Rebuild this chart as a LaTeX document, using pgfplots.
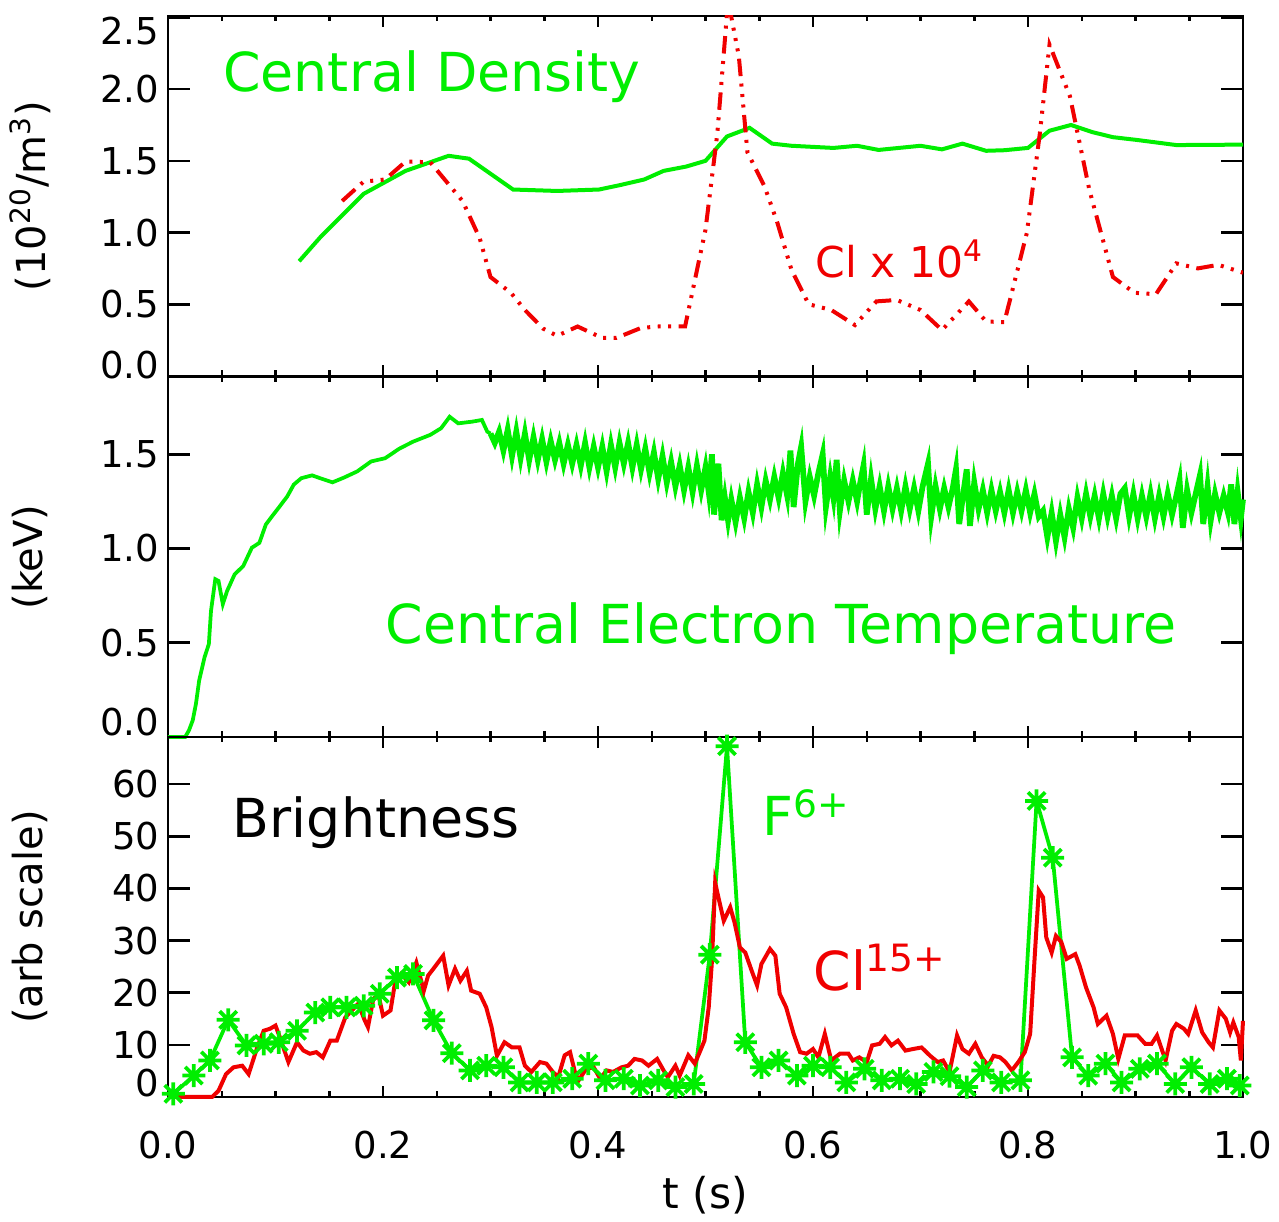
\documentclass[border=0pt]{standalone}
\usepackage{fontspec}
\setmainfont{DejaVu Sans}
\usepackage{pgfplots}
\pgfplotsset{compat=1.18}
\definecolor{idlgreen}{RGB}{0,238,0}
\definecolor{idlred}{RGB}{240,0,0}
\pgfdeclareplotmark{idlstar}{%
 \pgfpathmoveto{\pgfqpoint{-\pgfplotmarksize}{0pt}}\pgfpathlineto{\pgfqpoint{\pgfplotmarksize}{0pt}}%
 \pgfpathmoveto{\pgfqpoint{0pt}{-\pgfplotmarksize}}\pgfpathlineto{\pgfqpoint{0pt}{\pgfplotmarksize}}%
 \pgfpathmoveto{\pgfqpoint{-0.75\pgfplotmarksize}{-0.75\pgfplotmarksize}}\pgfpathlineto{\pgfqpoint{0.75\pgfplotmarksize}{0.75\pgfplotmarksize}}%
 \pgfpathmoveto{\pgfqpoint{-0.75\pgfplotmarksize}{0.75\pgfplotmarksize}}\pgfpathlineto{\pgfqpoint{0.75\pgfplotmarksize}{-0.75\pgfplotmarksize}}%
 \pgfusepathqstroke}
% labels at the ends of an axis are moved inside it, as in the reference
\newcommand{\edgelabel}[2]{\raisebox{#1}[0pt][0pt]{\pgfmathprintnumber{#2}}}
\pgfplotsset{panel/.style={
 scale only axis, width=430pt, height=144pt, anchor=south west,
 xmin=0, xmax=1, xtick={0,0.2,0.4,0.6,0.8,1}, minor x tick num=3,
 axis line style={line width=1pt, black},
 every tick/.style={black, line width=1pt},
 major tick length=8.8pt,
 xtick style={/pgfplots/major tick length=4.4pt, /pgfplots/minor tick length=2.2pt},
 tick label style={font=\fontsize{14.8}{17}\selectfont},
 label style={font=\fontsize{16}{19}\selectfont},
 /pgf/number format/assume math mode=true,
 ylabel style={at={(axis description cs:-0.128,0.5)}, anchor=center},
}}
\begin{document}
\begin{tikzpicture}
\path[use as bounding box] (0,0) rectangle (511.6pt,488.8pt);
% ---------------- top panel
\begin{axis}[panel, at={(67.2pt,338.4pt)}, ymin=0, ymax=2.51, ytick={0,0.5,1,1.5,2,2.5},
 xticklabels={}, yticklabel style={/pgf/number format/.cd,fixed,fixed zerofill,precision=1},
 yticklabel={\ifcase\ticknum \edgelabel{-1pt}{\tick}\or\pgfmathprintnumber{\tick}\or\pgfmathprintnumber{\tick}\or\pgfmathprintnumber{\tick}\or\pgfmathprintnumber{\tick}\else\edgelabel{-11pt}{\tick}\fi},
 ylabel={(10\textsuperscript{20}/m\textsuperscript{3})}]
\addplot[idlgreen, line width=1.6pt] coordinates {
(0.122,0.80)(0.142,0.97)(0.182,1.27)(0.221,1.43)(0.261,1.535)(0.280,1.515)(0.321,1.30)(0.362,1.29)(0.401,1.30)(0.420,1.33)(0.443,1.37)(0.461,1.43)(0.482,1.46)(0.500,1.50)(0.520,1.67)(0.541,1.73)(0.562,1.62)(0.580,1.605)(0.619,1.59)(0.641,1.605)(0.661,1.576)(0.700,1.605)(0.720,1.58)(0.739,1.62)(0.761,1.57)(0.778,1.574)(0.800,1.59)(0.820,1.71)(0.840,1.75)(0.860,1.70)(0.879,1.665)(0.902,1.645)(0.938,1.61)(1.000,1.613)};
\addplot[idlred, line width=1.6pt, line cap=butt, dash pattern=on 7pt off 3pt on 1.2pt off 3pt on 1.2pt off 3pt on 1.2pt off 3pt] coordinates {
(0.162,1.22)(0.182,1.355)(0.202,1.37)(0.221,1.495)(0.244,1.49)(0.274,1.22)(0.290,0.96)(0.300,0.69)(0.319,0.58)(0.332,0.46)(0.349,0.33)(0.362,0.28)(0.381,0.345)(0.404,0.265)(0.417,0.265)(0.440,0.335)(0.456,0.345)(0.481,0.345)(0.500,1.02)(0.511,1.69)(0.521,2.62)(0.531,2.23)(0.539,1.56)(0.555,1.32)(0.567,1.065)(0.580,0.74)(0.596,0.50)(0.617,0.46)(0.639,0.355)(0.659,0.52)(0.678,0.53)(0.700,0.46)(0.720,0.32)(0.745,0.52)(0.761,0.38)(0.778,0.375)(0.799,1.0)(0.811,1.69)(0.820,2.31)(0.839,1.95)(0.857,1.30)(0.879,0.69)(0.899,0.58)(0.919,0.57)(0.938,0.785)(0.958,0.75)(0.977,0.775)(1.000,0.72)};
\node[anchor=base west, inner sep=0pt, text=idlgreen, font=\fontsize{21.5}{24}\selectfont] at (axis cs:0.051,1.98) {Central Density};
\node[anchor=base west, inner sep=0pt, text=idlred, font=\fontsize{17}{20}\selectfont] at (axis cs:0.602,0.69) {Cl x 10\textsuperscript{4}};
\end{axis}
% ---------------- middle panel
\begin{axis}[panel, at={(67.2pt,194pt)}, ymin=0, ymax=1.91, ytick={0,0.5,1,1.5}, clip=false,
 xticklabels={}, yticklabel style={/pgf/number format/.cd,fixed,fixed zerofill,precision=1},
 yticklabel={\ifnum\ticknum=0 \edgelabel{0.6pt}{\tick}\else\pgfmathprintnumber{\tick}\fi},
 ylabel={(keV)}]
\addplot[idlgreen, line width=1.5pt] coordinates {
(0,0.0)(0.016,0.0)(0.0195,0.035)(0.023,0.088)(0.026,0.176)(0.029,0.30)(0.034,0.423)(0.038,0.493)(0.040,0.669)(0.044,0.837)(0.047,0.828)(0.051,0.705)(0.055,0.775)(0.062,0.863)(0.070,0.907)(0.078,1.004)(0.085,1.03)(0.091,1.127)(0.098,1.18)(0.104,1.224)(0.111,1.277)(0.117,1.339)(0.124,1.373)(0.134,1.388)(0.143,1.370)(0.153,1.351)(0.164,1.377)(0.176,1.409)(0.189,1.462)(0.202,1.479)(0.215,1.529)(0.228,1.567)(0.244,1.603)(0.254,1.638)(0.262,1.699)(0.270,1.664)(0.283,1.673)(0.292,1.682)(0.297,1.62)(0.300,1.61)};
\addplot[idlgreen, line width=2.3pt] coordinates {
(0.300,1.61)(0.304,1.56)(0.308,1.62)(0.312,1.52)(0.316,1.63)(0.320,1.49)(0.324,1.62)(0.328,1.48)(0.332,1.61)(0.336,1.47)(0.340,1.59)(0.344,1.47)(0.348,1.58)(0.352,1.46)(0.356,1.57)(0.360,1.47)(0.364,1.56)(0.368,1.45)(0.372,1.55)(0.376,1.45)(0.380,1.55)(0.384,1.44)(0.388,1.56)(0.392,1.43)(0.396,1.54)(0.400,1.43)(0.404,1.54)(0.408,1.41)(0.412,1.55)(0.416,1.43)(0.420,1.56)(0.424,1.45)(0.428,1.56)(0.432,1.43)(0.436,1.55)(0.440,1.42)(0.444,1.53)(0.448,1.40)(0.452,1.51)(0.456,1.37)(0.460,1.49)(0.464,1.35)(0.468,1.46)(0.472,1.33)(0.476,1.44)(0.480,1.31)(0.484,1.43)(0.488,1.30)(0.492,1.44)(0.496,1.31)(0.500,1.43)(0.503,1.30)(0.506,1.50)(0.508,1.18)(0.512,1.45)(0.515,1.15)(0.518,1.27)(0.521,1.15)(0.524,1.26)(0.528,1.14)(0.532,1.27)(0.536,1.16)(0.540,1.30)(0.544,1.19)(0.548,1.34)(0.552,1.22)(0.556,1.36)(0.560,1.26)(0.564,1.38)(0.568,1.27)(0.572,1.40)(0.576,1.28)(0.579,1.52)(0.582,1.22)(0.586,1.45)(0.589,1.54)(0.593,1.25)(0.597,1.38)(0.601,1.28)(0.605,1.40)(0.609,1.50)(0.612,1.22)(0.616,1.38)(0.619,1.27)(0.622,1.47)(0.625,1.20)(0.629,1.36)(0.633,1.25)(0.637,1.36)(0.641,1.25)(0.644,1.35)(0.647,1.44)(0.650,1.18)(0.654,1.37)(0.658,1.21)(0.662,1.33)(0.666,1.20)(0.670,1.33)(0.674,1.21)(0.678,1.32)(0.682,1.20)(0.686,1.33)(0.690,1.21)(0.694,1.32)(0.698,1.20)(0.702,1.33)(0.707,1.45)(0.710,1.17)(0.714,1.33)(0.718,1.21)(0.722,1.32)(0.726,1.22)(0.730,1.32)(0.733,1.42)(0.736,1.13)(0.740,1.30)(0.743,1.42)(0.746,1.12)(0.750,1.35)(0.754,1.21)(0.758,1.31)(0.762,1.19)(0.766,1.31)(0.770,1.20)(0.774,1.30)(0.778,1.19)(0.782,1.31)(0.786,1.19)(0.790,1.30)(0.794,1.20)(0.798,1.31)(0.802,1.19)(0.806,1.29)(0.810,1.17)(0.814,1.20)(0.818,1.06)(0.822,1.19)(0.826,1.04)(0.830,1.18)(0.834,1.06)(0.838,1.21)(0.842,1.11)(0.846,1.27)(0.850,1.16)(0.854,1.29)(0.858,1.17)(0.862,1.28)(0.866,1.16)(0.870,1.29)(0.874,1.17)(0.878,1.28)(0.882,1.16)(0.886,1.29)(0.890,1.32)(0.894,1.17)(0.898,1.29)(0.902,1.16)(0.906,1.28)(0.910,1.17)(0.914,1.29)(0.918,1.16)(0.922,1.28)(0.926,1.17)(0.930,1.29)(0.934,1.18)(0.938,1.28)(0.941,1.36)(0.944,1.11)(0.948,1.31)(0.952,1.19)(0.956,1.29)(0.960,1.39)(0.963,1.13)(0.967,1.33)(0.970,1.15)(0.974,1.29)(0.978,1.19)(0.982,1.28)(0.986,1.19)(0.989,1.34)(0.992,1.13)(0.995,1.30)(0.998,1.16)(1.000,1.26)};
\node[anchor=base west, inner sep=0pt, text=idlgreen, font=\fontsize{21.5}{24}\selectfont] at (axis cs:0.202,0.495) {Central Electron Temperature};
\end{axis}
% ---------------- bottom panel
\begin{axis}[panel, at={(67.2pt,50pt)}, ymin=0, ymax=69.06, ytick={0,10,20,30,40,50,60}, clip=false,
 yticklabel={\ifnum\ticknum=0 \edgelabel{0.2pt}{\tick}\else\pgfmathprintnumber{\tick}\fi},
 xticklabel style={yshift=-10pt, /pgf/number format/.cd,fixed,fixed zerofill,precision=1},
 xlabel={t (s)}, xlabel style={at={(axis description cs:0.5,-0.272)}, anchor=center, font=\fontsize{17}{20}\selectfont},
 ylabel={(arb scale)}]
\addplot[idlgreen, line width=1.5pt, mark=idlstar, mark size=4.6pt, mark options={solid, line width=1.5pt}] coordinates {
(0.005,0.6)(0.024,4.1)(0.039,7.0)(0.056,14.8)(0.073,9.9)(0.089,10.2)(0.103,10.5)(0.120,12.7)(0.137,16.2)(0.151,17.2)(0.166,17.2)(0.182,17.5)(0.197,19.8)(0.213,22.9)(0.228,23.6)(0.247,14.7)(0.264,8.4)(0.281,5.1)(0.296,6.0)(0.312,5.7)(0.327,2.8)(0.343,2.8)(0.358,2.8)(0.376,3.5)(0.391,6.4)(0.407,3.2)(0.424,3.5)(0.439,2.2)(0.456,3.2)(0.472,1.9)(0.489,2.5)(0.504,27.3)(0.520,67.3)(0.537,10.5)(0.552,5.7)(0.568,7.0)(0.585,4.1)(0.600,6.0)(0.616,5.7)(0.631,2.8)(0.648,5.4)(0.664,3.2)(0.681,3.5)(0.696,2.5)(0.712,4.8)(0.727,4.0)(0.743,1.9)(0.758,5.1)(0.775,2.8)(0.793,3.2)(0.808,56.8)(0.823,45.9)(0.841,7.6)(0.856,4.1)(0.872,6.4)(0.887,2.8)(0.904,5.4)(0.920,6.4)(0.937,2.5)(0.952,5.7)(0.969,2.5)(0.985,3.5)(0.997,2.2)};
\addplot[idlred, line width=1.6pt] coordinates {
(0,0)(0.041,0)(0.047,1.2)(0.054,4.4)(0.061,5.7)(0.069,6.0)(0.075,4.4)(0.083,9.5)(0.089,12.7)(0.095,13.1)(0.1,13.7)(0.104,11.5)(0.112,6.7)(0.120,10.5)(0.126,8.9)(0.132,8.3)(0.138,8.6)(0.144,7.6)(0.151,10.8)(0.157,10.8)(0.165,15.3)(0.171,16.6)(0.177,17.9)(0.183,14.7)(0.186,13.4)(0.191,18.8)(0.196,19.4)(0.200,15.6)(0.207,16.6)(0.211,21.7)(0.217,23.6)(0.224,22.0)(0.231,25.8)(0.238,20.4)(0.242,23.3)(0.248,24.9)(0.256,27.1)(0.261,21.4)(0.267,24.6)(0.272,22.3)(0.278,24.2)(0.282,20.4)(0.290,19.8)(0.296,17.2)(0.301,13.4)(0.306,7.9)(0.313,10.5)(0.320,9.5)(0.327,9.5)(0.332,6.0)(0.338,4.8)(0.346,6.7)(0.352,6.4)(0.358,4.8)(0.363,3.8)(0.369,8.0)(0.374,8.6)(0.379,4.4)(0.382,3.2)(0.389,5.4)(0.396,5.7)(0.402,3.5)(0.408,5.1)(0.414,4.8)(0.422,5.7)(0.428,6.0)(0.434,7.3)(0.441,7.0)(0.447,6.0)(0.455,7.3)(0.461,5.1)(0.465,3.8)(0.472,6.0)(0.476,4.1)(0.484,8.0)(0.490,6.4)(0.494,8.3)(0.499,10.8)(0.503,17.2)(0.506,26.1)(0.509,41.1)(0.512,38.3)(0.517,33.8)(0.523,36.4)(0.527,33.5)(0.532,28.7)(0.537,27.7)(0.543,24.2)(0.548,21.4)(0.552,25.5)(0.560,28.4)(0.565,27.1)(0.569,19.8)(0.575,17.2)(0.582,12.1)(0.588,8.6)(0.594,8.3)(0.600,9.2)(0.605,7.6)(0.611,12.1)(0.617,7.0)(0.625,8.3)(0.633,8.3)(0.637,7.0)(0.643,7.6)(0.650,6.7)(0.655,9.9)(0.662,10.2)(0.667,11.5)(0.673,9.9)(0.679,10.8)(0.686,8.9)(0.693,9.2)(0.701,9.5)(0.709,7.9)(0.716,6.7)(0.721,7.0)(0.727,4.8)(0.734,11.8)(0.739,9.2)(0.745,8.3)(0.751,10.2)(0.757,7.6)(0.763,6.0)(0.768,7.9)(0.774,7.6)(0.779,6.7)(0.785,5.1)(0.791,6.7)(0.797,8.6)(0.802,12.1)(0.806,26.1)(0.810,39.6)(0.814,38.3)(0.817,30.6)(0.822,27.7)(0.826,30.9)(0.831,29.7)(0.836,26.5)(0.844,27.4)(0.848,25.2)(0.854,21.0)(0.861,17.2)(0.865,14.0)(0.873,15.6)(0.879,12.1)(0.884,7.3)(0.890,11.8)(0.896,11.8)(0.902,11.8)(0.909,10.2)(0.915,10.2)(0.920,11.8)(0.928,7.0)(0.934,12.7)(0.938,14.0)(0.945,13.1)(0.949,12.1)(0.956,16.6)(0.962,12.4)(0.968,10.5)(0.972,9.5)(0.978,16.6)(0.984,15.0)(0.988,12.4)(0.991,14.3)(0.996,11.5)(0.998,7.0)(1.0,14.6)};
\node[anchor=base west, inner sep=0pt, text=black, font=\fontsize{21.5}{24}\selectfont] at (axis cs:0.060,49.7) {Brightness};
\node[anchor=base west, inner sep=0pt, text=idlgreen, font=\fontsize{21.5}{24}\selectfont] at (axis cs:0.553,50.1) {F\textsuperscript{6+}};
\node[anchor=base west, inner sep=0pt, text=idlred, font=\fontsize{21.5}{24}\selectfont] at (axis cs:0.600,20.4) {Cl\textsuperscript{15+}};
\end{axis}
\end{tikzpicture}
\end{document}
